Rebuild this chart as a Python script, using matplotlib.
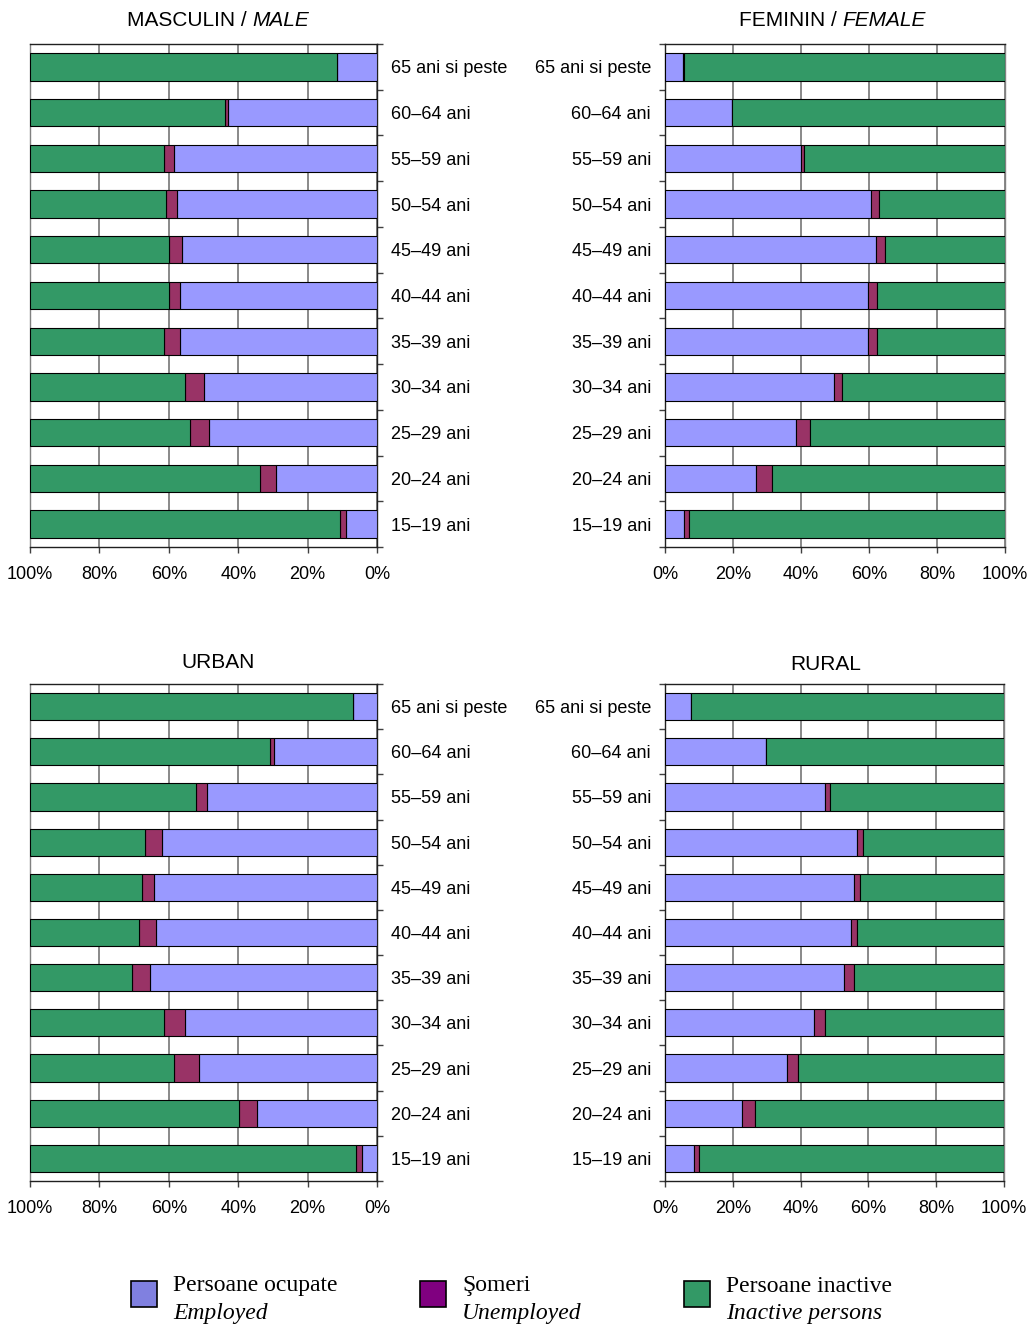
import numpy as np
import matplotlib
matplotlib.use("Agg")
import matplotlib.pyplot as plt
from matplotlib.patches import Rectangle

plt.rcParams['font.family'] = ['Liberation Sans', 'DejaVu Sans']

W, H = 1031, 1324

## Data (top row = 65+, bottom row = 15-19)
age_groups = ['65 ani si peste', '60–64 ani', '55–59 ani', '50–54 ani', '45–49 ani',
              '40–44 ani', '35–39 ani', '30–34 ani', '25–29 ani', '20–24 ani', '15–19 ani']

male_employed = [11.4, 42.8, 58.5, 57.5, 56.1, 56.8, 56.8, 49.9, 48.4, 29.0, 9.0]
male_unemployed = [0.1, 0.9, 2.9, 3.3, 3.8, 3.1, 4.6, 5.4, 5.4, 4.8, 1.8]
male_inactive = [88.5, 56.3, 38.6, 39.2, 40.1, 40.1, 38.6, 44.7, 46.2, 66.2, 89.2]

female_employed = [5.4, 19.6, 40.1, 60.6, 62.2, 59.8, 59.8, 49.6, 38.6, 26.8, 5.5]
female_unemployed = [0.1, 0.2, 0.8, 2.4, 2.5, 2.5, 2.5, 2.4, 3.9, 4.7, 1.6]
female_inactive = [94.5, 80.2, 59.1, 37.0, 35.3, 37.7, 37.7, 48.0, 57.5, 68.5, 92.9]

urban_employed = [6.8, 29.8, 49.1, 62.1, 64.4, 63.8, 65.3, 55.3, 51.4, 34.5, 4.4]
urban_unemployed = [0.1, 1.0, 3.2, 4.7, 3.3, 4.7, 5.4, 6.1, 7.0, 5.4, 1.6]
urban_inactive = [93.1, 69.2, 47.7, 33.2, 32.3, 31.5, 29.3, 38.6, 41.6, 60.1, 94.0]

rural_employed = [7.7, 29.8, 47.2, 56.7, 55.8, 55.0, 52.7, 44.1, 36.1, 22.7, 8.5]
rural_unemployed = [0.1, 0.1, 1.6, 1.6, 1.7, 1.7, 3.1, 3.1, 3.2, 3.9, 1.6]
rural_inactive = [92.2, 70.1, 51.2, 41.7, 42.5, 43.3, 44.2, 52.8, 60.7, 73.4, 89.9]

C_EMP = '#9999FF'
C_UNEMP = '#993366'
C_INACT = '#339966'


def px_axes(fig, x0, x1, ytop, ybot):
    return fig.add_axes([x0 / W, 1 - ybot / H, (x1 - x0) / W, (ybot - ytop) / H])


def draw_panel(ax, emp, unemp, inact, mirrored):
    n = len(age_groups)
    y = np.arange(n)[::-1]
    emp = np.array(emp)
    unemp = np.array(unemp)
    inact = np.array(inact)
    kw = dict(height=0.6, edgecolor='black', linewidth=0.8, zorder=3)
    ax.barh(y, emp, color=C_EMP, **kw)
    ax.barh(y, unemp, left=emp, color=C_UNEMP, **kw)
    ax.barh(y, inact, left=emp + unemp, color=C_INACT, **kw)

    ax.set_ylim(-0.5, n - 0.5)
    if mirrored:
        ax.set_xlim(100, 0)
    else:
        ax.set_xlim(0, 100)
    ax.set_xticks([0, 20, 40, 60, 80, 100])
    ax.set_xticklabels(['0%', '20%', '40%', '60%', '80%', '100%'])
    ax.grid(axis='x', color='#808080', linewidth=1.3)
    ax.set_axisbelow(True)

    # category ticks at boundaries, labels at centres
    ax.set_yticks(np.arange(-0.5, n, 1.0))
    ax.set_yticklabels([])
    ax.set_yticks(y, minor=True)
    ax.set_yticklabels(age_groups, minor=True)
    ax.tick_params(axis='y', which='major', length=4, width=1, color='#404040')
    ax.tick_params(axis='x', length=4, width=1, color='#404040', labelsize=13, pad=10)

    for s in ax.spines.values():
        s.set_color('#202020')
        s.set_linewidth(1.0)

    if mirrored:
        ax.yaxis.tick_right()
        ax.tick_params(axis='y', which='minor', length=0, labelsize=13, pad=10)
        for t in ax.get_yticklabels(minor=True):
            t.set_horizontalalignment('left')
        ax.spines['left'].set_color('#808080')
    else:
        ax.tick_params(axis='y', which='minor', length=0, labelsize=13, pad=10)
        ax.spines['right'].set_color('#808080')


def mixed_title(fig, cx, y, normal, italic, size=15):
    r = fig.canvas.get_renderer()
    t1 = fig.text(0, 0, normal + ' ', fontsize=size)
    t2 = fig.text(0, 0, italic, fontsize=size, style='italic')
    w1 = t1.get_window_extent(r).width
    w2 = t2.get_window_extent(r).width
    x0 = cx - (w1 + w2) / 2
    t1.set_position((x0 / W, 1 - y / H))
    t2.set_position(((x0 + w1) / W, 1 - y / H))
    t1.set_va('center')
    t2.set_va('center')


fig = plt.figure(figsize=(W / 100, H / 100), dpi=100)

ax_m = px_axes(fig, 30, 377, 44, 547)
draw_panel(ax_m, male_employed, male_unemployed, male_inactive, True)
ax_f = px_axes(fig, 665, 1005, 44, 547)
draw_panel(ax_f, female_employed, female_unemployed, female_inactive, False)
ax_u = px_axes(fig, 30, 377, 684, 1181)
draw_panel(ax_u, urban_employed, urban_unemployed, urban_inactive, True)
ax_r = px_axes(fig, 665, 1004, 684, 1181)
draw_panel(ax_r, rural_employed, rural_unemployed, rural_inactive, False)

mixed_title(fig, 218, 21, 'MASCULIN /', 'MALE')
mixed_title(fig, 832, 21, 'FEMININ /', 'FEMALE')
fig.text(218 / W, 1 - 662 / H, 'URBAN', fontsize=15, ha='center', va='center')
fig.text(826 / W, 1 - 665 / H, 'RURAL', fontsize=15, ha='center', va='center')

## Legend
legend_items = [
    (131, '#8080E0', 'Persoane ocupate', 'Employed'),
    (420, '#800080', 'Şomeri', 'Unemployed'),
    (684, '#339966', 'Persoane inactive', 'Inactive persons'),
]
for x, col, ro, en in legend_items:
    fig.patches.append(Rectangle((x / W, 1 - 1307 / H), 26 / W, 26 / H, transform=fig.transFigure,
                                 facecolor=col, edgecolor='black', linewidth=1.2))
    fig.text((x + 42) / W, 1 - 1286 / H, ro, fontsize=17, family='Liberation Serif',
             ha='left', va='center')
    fig.text((x + 42) / W, 1 - 1314 / H, en, fontsize=17, family='Liberation Serif',
             style='italic', ha='left', va='center')

fig.savefig('out.png', dpi=100)
